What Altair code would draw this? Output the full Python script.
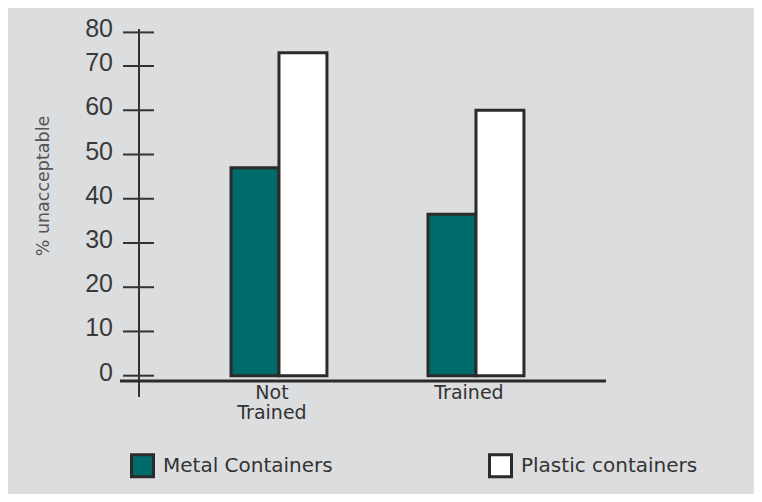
import altair as alt
import pandas as pd

# ---- data ----
categories = ["Not Trained", "Trained"]
axis_labels = ["Not\nTrained", "Trained"]
series = ["Metal Containers", "Plastic containers"]
metal_values = [47, 36.5]
plastic_values = [73, 60]
tick_values = [0, 10, 20, 30, 40, 50, 60, 70, 77.6]
tick_labels = ["0", "10", "20", "30", "40", "50", "60", "70", "80"]
y_title = ["% unacceptable"]

rows = []
for c, m, p in zip(categories, metal_values, plastic_values):
    rows.append({"group": c, "series": series[0], "value": m})
    rows.append({"group": c, "series": series[1], "value": p})
bars_df = pd.DataFrame(rows)
ticks_df = pd.DataFrame({"v": tick_values, "label": tick_labels})
xlab_df = pd.DataFrame({"group": categories, "label": axis_labels})
title_df = pd.DataFrame({"t": y_title})
one_df = pd.DataFrame({"a": [0]})

W, H = 486, 352
INK = "#2b2b2b"

yscale = alt.Scale(domain=[-1.2, 78.37], nice=False, zero=False)
xscale = alt.Scale(domain=categories, paddingInner=0.513, paddingOuter=0.49, align=0.575)

bars = alt.Chart(bars_df).mark_bar(stroke=INK, strokeWidth=3).encode(
    x=alt.X("group:N", scale=xscale, axis=None, sort=categories),
    xOffset=alt.XOffset("series:N", scale=alt.Scale(domain=series, paddingInner=0, paddingOuter=0)),
    y=alt.Y("value:Q", scale=yscale, axis=None),
    y2=alt.value(H),
    fill=alt.Fill(
        "series:N",
        scale=alt.Scale(domain=series, range=["#006b6b", "#ffffff"]),
        legend=alt.Legend(
            title=None, orient="none", legendX=10, legendY=424,
            direction="horizontal", symbolType="square", symbolSize=484,
            symbolStrokeColor=INK, symbolStrokeWidth=3,
            labelFont="DejaVu Sans", labelFontSize=20, labelColor="#333333",
            labelOffset=8, columnPadding=150, padding=0, labelLimit=400,
        ),
    ),
)

tick_rules = alt.Chart(ticks_df).mark_rule(color="#333333", strokeWidth=2).encode(
    y=alt.Y("v:Q", scale=yscale, axis=None),
    x=alt.value(3),
    x2=alt.value(34),
)

tick_text = alt.Chart(ticks_df).mark_text(
    align="right", baseline="middle", font="Liberation Sans", fontSize=25,
    color="#3a3a3a", dy=-3,
).encode(
    y=alt.Y("v:Q", scale=yscale, axis=None),
    x=alt.value(-7),
    text="label:N",
)

y_line = alt.Chart(one_df).mark_rule(color="#333333", strokeWidth=2).encode(
    x=alt.value(19), y=alt.value(0), y2=alt.value(H + 16)
)
x_line = alt.Chart(one_df).mark_rule(color=INK, strokeWidth=3).encode(
    x=alt.value(0), x2=alt.value(W), y=alt.value(H)
)

x_text = alt.Chart(xlab_df).mark_text(
    baseline="top", align="center", lineBreak="\n", font="DejaVu Sans",
    fontSize=19, lineHeight=20, dx=-7, color="#333333",
).encode(
    x=alt.X("group:N", scale=xscale, axis=None, sort=categories),
    y=alt.value(H + 3),
    text="label:N",
)

title = alt.Chart(title_df).mark_text(
    angle=270, font="DejaVu Sans", fontSize=17.5, color="#555555",
    align="center", baseline="middle",
).encode(x=alt.value(-76), y=alt.value(157), text="t:N")

chart = alt.layer(bars, tick_rules, y_line, x_line, tick_text, x_text, title).properties(
    width=W,
    height=H,
    padding={"left": 112, "top": 21, "right": 148, "bottom": 113},
    autosize=alt.AutoSizeParams(type="none"),
    background="#dcdddf",
).configure_view(stroke=None)

chart.save("out.html", embed_options={"renderer": "svg", "actions": False})
